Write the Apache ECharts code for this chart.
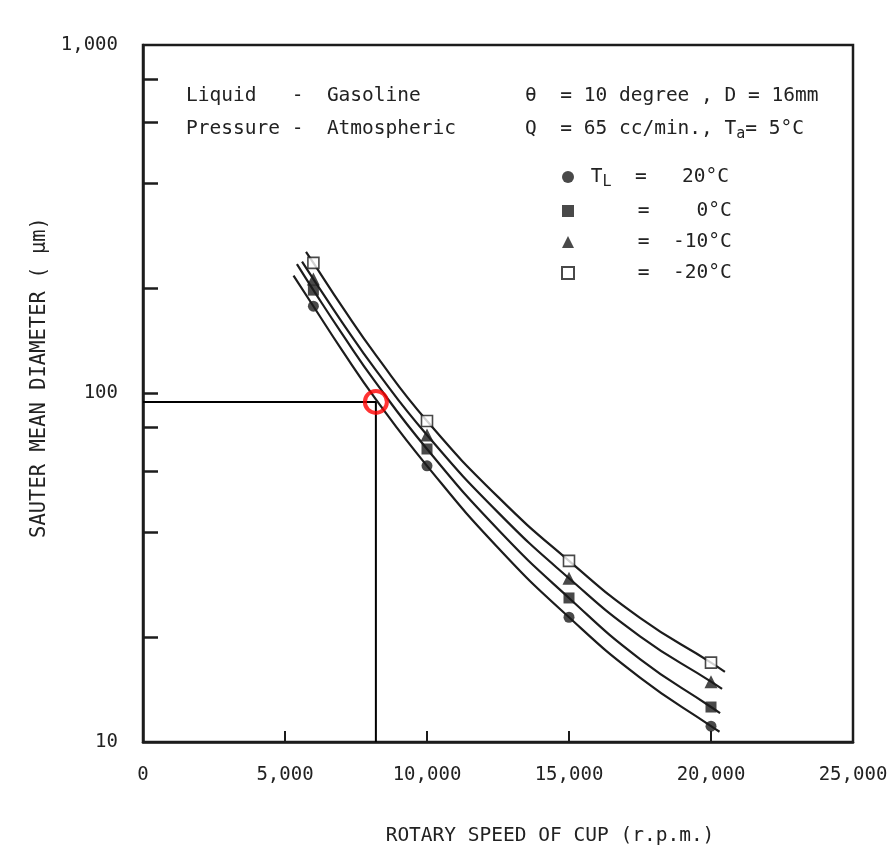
<!DOCTYPE html>
<html>
<head>
<meta charset="utf-8">
<script src="https://cdn.jsdelivr.net/npm/echarts@6/dist/echarts.min.js"></script>
<style>
  html, body { margin: 0; padding: 0; background: #ffffff; }
  #chart { width: 894px; height: 861px; }
</style>
</head>
<body>
<div id="chart"></div>
<script>
// Axis ticks
const speedTicks = [5000, 10000, 15000, 20000];
const diameterLabels = [10, 100, 1000];
const diameterMinorTicks = [20, 40, 60, 80, 100, 200, 400, 600, 800];

// Measured Sauter mean diameters (μm) at each cup speed (r.p.m.)
const measuredSpeeds = [6000, 10000, 15000, 20000];
const smdTL20 = [178, 62, 22.8, 11.1];
const smdTL0 = [198, 69.3, 25.9, 12.6];
const smdTLm10 = [213, 76, 29.5, 14.9];
const smdTLm20 = [237, 83.4, 33.1, 16.9];

// Fitted curves through the measurements
const curveSpeedsTL20 = [5300, 6000, 7000, 8200, 10000, 12500, 15000, 17500, 20000, 20300];
const curveTL20 = [218, 178, 133.4, 96.2, 62, 36.1, 22.8, 15.3, 11.1, 10.7];
const curveSpeedsTL0 = [5420, 6000, 7000, 8200, 10000, 12500, 15000, 17500, 20000, 20320];
const curveTL0 = [235, 198, 148.8, 107.4, 69.3, 40.7, 25.9, 17.3, 12.6, 12.1];
const curveSpeedsTLm10 = [5600, 6000, 7000, 8200, 10000, 12500, 15000, 17500, 20000, 20390];
const curveTLm10 = [239, 213, 160.6, 116.7, 76, 45.6, 29.5, 20.1, 14.9, 14.2];
const curveSpeedsTLm20 = [5740, 6000, 7000, 8200, 10000, 12500, 15000, 17500, 20000, 20490];
const curveTLm20 = [255, 237, 178, 128.8, 83.4, 50.5, 33.1, 22.7, 16.9, 15.9];

// Read-off guide
const readSpeed = 8200;
const readDiameter = 94.6;

const seriesNames = ['20°C', '0°C', '-10°C', '-20°C'];
const legendText = {
  '20°C':  '{n| T}{s|L}{n|  =   20°C}',
  '0°C':   '{n|     =    0°C}',
  '-10°C': '{n|     =  -10°C}',
  '-20°C': '{n|     =  -20°C}'
};

const INK = '#1c1c1c';
const FONT = '"DejaVu Sans Mono", "Liberation Mono", monospace';
const TEXT_SIZE = 19.5;

const zip = (xs, ys) => xs.map((x, i) => [x, ys[i]]);

function curve(xs, ys) {
  return {
    type: 'line', data: zip(xs, ys), smooth: 0.5,
    showSymbol: false, silent: true, z: 2,
    lineStyle: { color: INK, width: 2.2 }
  };
}

function points(name, ys, symbol, filled) {
  return {
    type: 'scatter', name, data: zip(measuredSpeeds, ys), symbol,
    symbolSize: symbol === 'triangle' ? 13 : 11, z: 4,
    itemStyle: filled
      ? { color: INK }
      : { color: '#ffffff', borderColor: INK, borderWidth: 1.6 }
  };
}

const chart = echarts.init(document.getElementById('chart'), null, { renderer: 'canvas' });

chart.setOption({
  animation: false,
  backgroundColor: '#ffffff',
  grid: { left: 143, top: 45, right: 41, bottom: 119, show: true,
          borderColor: INK, borderWidth: 2.5, backgroundColor: 'transparent' },
  xAxis: {
    type: 'value', min: 0, max: 25000, interval: 5000,
    axisLine: { show: true, lineStyle: { color: INK, width: 2.5 } },
    axisTick: { show: true, inside: true, length: 11, customValues: speedTicks,
                lineStyle: { color: INK, width: 2 } },
    axisLabel: { margin: 24, color: '#222', fontFamily: FONT, fontSize: 19,
                 formatter: v => v.toLocaleString('en-US') },
    splitLine: { show: false },
    name: 'ROTARY SPEED OF CUP (r.p.m.)', nameLocation: 'middle', nameGap: 84,
    nameTextStyle: { color: '#222', fontFamily: FONT, fontSize: TEXT_SIZE, padding: [0, 0, 0, 104] }
  },
  yAxis: {
    type: 'log', logBase: 10, min: 10, max: 1000,
    axisLine: { show: true, lineStyle: { color: INK, width: 2.5 } },
    axisTick: { show: true, inside: true, length: 15, customValues: diameterMinorTicks,
                lineStyle: { color: INK, width: 2.5 } },
    axisLabel: { customValues: diameterLabels, margin: 25, color: '#222',
                 fontFamily: FONT, fontSize: 19,
                 formatter: v => Number(v).toLocaleString('en-US') },
    splitLine: { show: false },
    name: 'SAUTER MEAN DIAMETER ( μm)', nameLocation: 'middle', nameGap: 92,
    nameTextStyle: { color: '#222', fontFamily: FONT, fontSize: 20.5, padding: [0, 0, 0, 32] }
  },
  legend: {
    data: seriesNames, orient: 'vertical', left: 556, top: 162,
    itemWidth: 12, itemHeight: 12, itemGap: 11,
    formatter: name => legendText[name],
    textStyle: {
      rich: {
        n: { fontFamily: FONT, fontSize: TEXT_SIZE, color: '#222' },
        s: { fontFamily: FONT, fontSize: 15, color: '#222', padding: [11, 0, 0, 0] }
      }
    }
  },
  graphic: [
    { type: 'text', left: 186, top: 86,
      style: { text: 'Liquid   -  Gasoline', font: TEXT_SIZE + 'px ' + FONT, fill: '#222' } },
    { type: 'text', left: 186, top: 119,
      style: { text: 'Pressure -  Atmospheric', font: TEXT_SIZE + 'px ' + FONT, fill: '#222' } },
    { type: 'text', left: 525, top: 86,
      style: { text: 'θ  = 10 degree , D = 16mm', font: TEXT_SIZE + 'px ' + FONT, fill: '#222' } },
    { type: 'text', left: 525, top: 119,
      style: {
        text: '{n|Q  = 65 cc/min., T}{s|a}{n|= 5°C}',
        rich: {
          n: { fontFamily: FONT, fontSize: TEXT_SIZE, fill: '#222' },
          s: { fontFamily: FONT, fontSize: 15, fill: '#222', padding: [11, 0, 0, 0] }
        }
      } }
  ],
  series: [
    curve(curveSpeedsTL20, curveTL20),
    curve(curveSpeedsTL0, curveTL0),
    curve(curveSpeedsTLm10, curveTLm10),
    curve(curveSpeedsTLm20, curveTLm20),
    points(seriesNames[0], smdTL20, 'circle', true),
    points(seriesNames[1], smdTL0, 'rect', true),
    points(seriesNames[2], smdTLm10, 'triangle', true),
    points(seriesNames[3], smdTLm20, 'rect', false),
    {
      type: 'line', silent: true, showSymbol: false, z: 3,
      data: [[0, readDiameter], [readSpeed, readDiameter], [readSpeed, 10]],
      lineStyle: { color: '#000', width: 2 }
    },
    {
      type: 'scatter', silent: true, z: 5, symbol: 'circle', symbolSize: 22,
      data: [[readSpeed, readDiameter]],
      itemStyle: { color: 'rgba(0,0,0,0)', borderColor: '#ff0000', borderWidth: 4 }
    }
  ]
});
</script>
</body>
</html>
